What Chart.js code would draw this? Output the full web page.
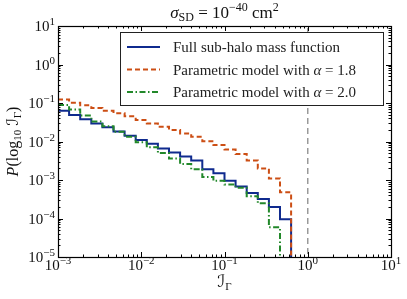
<!DOCTYPE html>
<html>
<head>
<meta charset="utf-8">
<script src="https://cdn.jsdelivr.net/npm/chart.js@4.4.0/dist/chart.umd.min.js"></script>
<style>
  html, body { margin: 0; padding: 0; background: #fff; }
</style>
</head>
<body>
<canvas id="chart" width="407" height="299"></canvas>
<script>
// bin edges of the histogram (log-spaced)
const binEdges = [0.001, 0.001359, 0.001848, 0.002512, 0.003415, 0.004642, 0.006310, 0.008577,
  0.01166, 0.01585, 0.02154, 0.02929, 0.03981, 0.05412, 0.07356, 0.1,
  0.1359, 0.1848, 0.2512, 0.3415, 0.4642, 0.6310];

// P(log10 I) per bin
const fullSubhalo = [0.0631, 0.049, 0.038, 0.0295, 0.0234, 0.0182, 0.0141, 0.011, 0.0087, 0.0066,
  0.0052, 0.0041, 0.0032, 0.0019, 0.0015, 0.00095, 0.00068, 0.00046, 0.00032, 0.0002, 0.000095];
const alpha18 = [0.123, 0.102, 0.087, 0.074, 0.063, 0.054, 0.045, 0.036, 0.0295, 0.024,
  0.020, 0.0162, 0.0132, 0.0102, 0.0081, 0.0062, 0.0047, 0.0032, 0.0020, 0.0011, 0.00048];
const alpha20 = [0.089, 0.068, 0.047, 0.033, 0.025, 0.0178, 0.0132, 0.0095, 0.0071, 0.0050,
  0.0036, 0.0026, 0.0019, 0.0012, 0.00095, 0.00076, 0.00063, 0.00038, 0.00025, 0.000059];

const seriesLabels = ['Full sub-halo mass function', 'Parametric model with α = 1.8', 'Parametric model with α = 2.0'];
const thresholdX = 1;

const xTicks = [1e-3, 1e-2, 1e-1, 1, 10];
const xTickExps = ['−3', '−2', '−1', '0', '1'];
const yTicks = [1e-5, 1e-4, 1e-3, 1e-2, 1e-1, 1, 10];
const yTickExps = ['−5', '−4', '−3', '−2', '−1', '0', '1'];

const SERIF = '"Liberation Serif", "DejaVu Serif", "DejaVu Sans", serif';
const roman = s => s + 'px ' + SERIF;
const italic = s => 'italic ' + s + 'px ' + SERIF;

// step outline: each value holds from its left edge to the next edge, then drops off the axis
function stepPoints(values) {
  const pts = values.map((v, i) => ({ x: binEdges[i], y: v }));
  const n = values.length;
  pts.push({ x: binEdges[n], y: values[n - 1] });
  pts.push({ x: binEdges[n], y: 1e-7 });
  return pts;
}

function drawRich(ctx, parts, x, y, align) {
  let w = 0;
  parts.forEach(p => { ctx.font = p.font; p.w = ctx.measureText(p.t).width; w += p.w; });
  let cx = align === 'center' ? x - w / 2 : align === 'right' ? x - w : x;
  ctx.textAlign = 'left';
  ctx.textBaseline = 'alphabetic';
  parts.forEach(p => { ctx.font = p.font; ctx.fillText(p.t, cx, y + (p.dy || 0)); cx += p.w; });
}

const decor = {
  id: 'decor',
  afterDraw(chart) {
    const ctx = chart.ctx;
    const a = chart.chartArea;
    const xs = chart.scales.x, ys = chart.scales.y;
    ctx.save();
    ctx.strokeStyle = '#000';
    ctx.fillStyle = '#111';
    ctx.lineWidth = 1;

    // ticks on all four sides, pointing inward
    ctx.beginPath();
    const tickX = (v, len) => {
      const px = Math.round(xs.getPixelForValue(v)) + 0.5;
      ctx.moveTo(px, a.bottom); ctx.lineTo(px, a.bottom - len);
      ctx.moveTo(px, a.top); ctx.lineTo(px, a.top + len);
    };
    const tickY = (v, len) => {
      const py = Math.round(ys.getPixelForValue(v)) + 0.5;
      ctx.moveTo(a.left, py); ctx.lineTo(a.left + len, py);
      ctx.moveTo(a.right, py); ctx.lineTo(a.right - len, py);
    };
    xTicks.forEach(v => tickX(v, 5));
    yTicks.forEach(v => tickY(v, 5));
    for (let d = -3; d < 1; d++) for (let m = 2; m < 10; m++) tickX(m * Math.pow(10, d), 2.5);
    for (let d = -5; d < 1; d++) for (let m = 2; m < 10; m++) tickY(m * Math.pow(10, d), 2.5);
    ctx.stroke();

    ctx.lineWidth = 1.2;
    ctx.strokeRect(Math.round(a.left) + 0.5, Math.round(a.top) + 0.5, Math.round(a.right - a.left), Math.round(a.bottom - a.top));

    // tick labels
    xTicks.forEach((v, i) => {
      drawRich(ctx, [{ t: '10', font: roman(15) }, { t: xTickExps[i], font: roman(11), dy: -6 }],
        xs.getPixelForValue(v), a.bottom + 13, 'center');
    });
    yTicks.forEach((v, i) => {
      drawRich(ctx, [{ t: '10', font: roman(15) }, { t: yTickExps[i], font: roman(11), dy: -6 }],
        a.left - 3, ys.getPixelForValue(v) + 5, 'right');
    });

    // title
    drawRich(ctx, [
      { t: 'σ', font: italic(17) }, { t: 'SD', font: roman(12), dy: 3 },
      { t: ' = 10', font: roman(17) }, { t: '−40', font: roman(12), dy: -7 },
      { t: ' cm', font: roman(17) }, { t: '2', font: roman(12), dy: -7 }
    ], (a.left + a.right) / 2, 18, 'center');

    // x label
    drawRich(ctx, [{ t: 'ℐ', font: italic(17) }, { t: 'Γ', font: roman(11), dy: 3 }],
      (a.left + a.right) / 2, 287, 'center');

    // y label
    ctx.save();
    ctx.translate(18, (a.top + a.bottom) / 2);
    ctx.rotate(-Math.PI / 2);
    drawRich(ctx, [
      { t: 'P', font: italic(16) }, { t: '(log', font: roman(16) }, { t: '10', font: roman(11), dy: 3 },
      { t: ' ℐ', font: italic(16) }, { t: 'Γ', font: roman(11), dy: 3 }, { t: ')', font: roman(16) }
    ], 0, 0, 'center');
    ctx.restore();

    // legend
    const lx = 120, ly = 32, lw = 263, lh = 73;
    ctx.fillStyle = '#fff';
    ctx.fillRect(lx, ly, lw, lh);
    ctx.strokeStyle = '#222';
    ctx.lineWidth = 1;
    ctx.strokeRect(lx + 0.5, ly + 0.5, lw, lh);
    chart.data.datasets.slice(0, 3).forEach((ds, i) => {
      const ry = ly + 15 + i * 22.5;
      ctx.strokeStyle = ds.borderColor;
      ctx.lineWidth = ds.borderWidth;
      ctx.setLineDash(ds.borderDash || []);
      ctx.beginPath();
      ctx.moveTo(lx + 7, ry); ctx.lineTo(lx + 40, ry);
      ctx.stroke();
      ctx.setLineDash([]);
      ctx.fillStyle = '#222';
      const bits = ds.label.split('α');
      const parts = [{ t: bits[0], font: roman(15) }];
      if (bits.length > 1) {
        parts.push({ t: 'α', font: italic(15) });
        parts.push({ t: bits[1], font: roman(15) });
      }
      drawRich(ctx, parts, lx + 53, ry + 5, 'left');
    });
    ctx.restore();
  }
};

const ctx = document.getElementById('chart').getContext('2d');

new Chart(ctx, {
  type: 'line',
  data: {
    datasets: [
      {
        label: seriesLabels[0],
        data: stepPoints(fullSubhalo),
        borderColor: '#0f2a8e',
        borderWidth: 2,
        stepped: 'before',
        order: 3
      },
      {
        label: seriesLabels[1],
        data: stepPoints(alpha18),
        borderColor: '#cc4e14',
        borderWidth: 2,
        borderDash: [5, 3],
        stepped: 'before',
        order: 2
      },
      {
        label: seriesLabels[2],
        data: stepPoints(alpha20),
        borderColor: '#22882a',
        borderWidth: 2,
        borderDash: [6, 2.5, 1.5, 2.5],
        stepped: 'before',
        order: 1
      },
      {
        label: 'threshold',
        data: [{ x: thresholdX, y: 1e-7 }, { x: thresholdX, y: 100 }],
        borderColor: '#999',
        borderWidth: 1.5,
        borderDash: [6, 4],
        order: 4
      }
    ]
  },
  options: {
    responsive: false,
    animation: false,
    parsing: false,
    elements: { point: { radius: 0 }, line: { tension: 0 } },
    layout: { padding: { top: 26, right: 16, left: 0, bottom: 0 } },
    plugins: {
      legend: { display: false },
      title: { display: false },
      tooltip: { enabled: false }
    },
    scales: {
      x: {
        type: 'logarithmic', min: 1e-3, max: 10,
        grid: { display: false }, border: { display: false }, ticks: { display: false },
        afterFit: s => { s.height = 42; }
      },
      y: {
        type: 'logarithmic', min: 1e-5, max: 10,
        grid: { display: false }, border: { display: false }, ticks: { display: false },
        afterFit: s => { s.width = 58; }
      }
    }
  },
  plugins: [decor]
});
</script>
</body>
</html>
